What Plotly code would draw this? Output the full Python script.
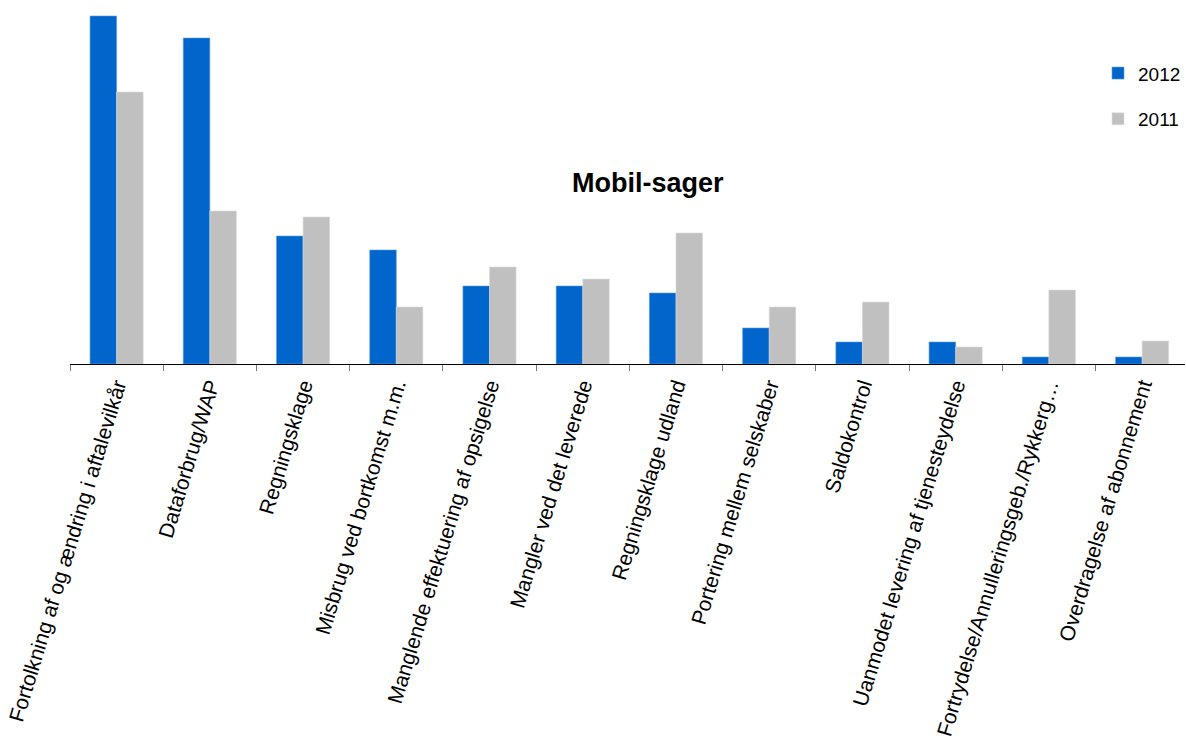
import plotly.graph_objects as go

categories = [
    "Fortolkning af og ændring i aftalevilkår",
    "Dataforbrug/WAP",
    "Regningsklage",
    "Misbrug ved bortkomst m.m.",
    "Manglende effektuering af opsigelse",
    "Mangler ved det leverede",
    "Regningsklage udland",
    "Portering mellem selskaber",
    "Saldokontrol",
    "Uanmodet levering af tjenesteydelse",
    "Fortrydelse/Annulleringsgeb./Rykkerg…",
    "Overdragelse af abonnement",
]
values_2012 = [348, 326, 128, 114, 78, 78, 71, 36, 22, 22, 7, 7]
values_2011 = [272, 153, 147, 57, 97, 85, 131, 57, 62, 17, 74, 23]

BLUE = "#0066CC"
GREY = "#C0C0C0"
FONT = "Liberation Sans, Arial, Helvetica, sans-serif"

fig = go.Figure()
fig.add_trace(go.Bar(
    x=categories, y=values_2012, name="2012", legendgroup="a",
    marker=dict(color=BLUE, line=dict(color="#5C9BE0", width=0.6)),
))
fig.add_trace(go.Bar(
    x=categories, y=values_2011, name="2011", legendgroup="b",
    marker=dict(color=GREY, line=dict(color="#DCDCDC", width=0.6)),
))

fig.update_layout(
    width=1186, height=742,
    margin=dict(l=70, r=0, t=10, b=378),
    paper_bgcolor="white", plot_bgcolor="white",
    barmode="group", bargap=0.43, bargroupgap=0,
    font=dict(family=FONT, color="black"),
    legend=dict(
        x=0.922, y=0.875, xanchor="left", yanchor="top",
        font=dict(size=19), traceorder="grouped", tracegroupgap=18,
        bgcolor="rgba(0,0,0,0)",
    ),
    xaxis=dict(
        type="category", range=[-0.5, 11.46], automargin=False,
        showline=True, linecolor="black", linewidth=1,
        ticks="outside", ticklen=6, tickcolor="#777", tickwidth=1,
        tickson="boundaries", tickangle=-73,
        tickfont=dict(size=21, family=FONT, color="black"),
        showgrid=False, zeroline=False,
    ),
    xaxis2=dict(
        overlaying="x", anchor="y", side="bottom", range=[-0.5, 11.46],
        tickmode="array", tickvals=[i - 0.5 for i in range(13)],
        ticks="inside", ticklen=7, tickcolor="#777", tickwidth=1,
        showticklabels=False, showgrid=False, zeroline=False, showline=False,
    ),
    yaxis=dict(
        range=[0, 354], visible=False, showgrid=False, zeroline=False,
    ),
    annotations=[dict(
        text="<b>Mobil-sager</b>", x=0.518, y=0.511, xref="paper", yref="paper",
        showarrow=False, font=dict(size=27, family=FONT, color="black"),
    )],
)

fig.write_html("out.html")
